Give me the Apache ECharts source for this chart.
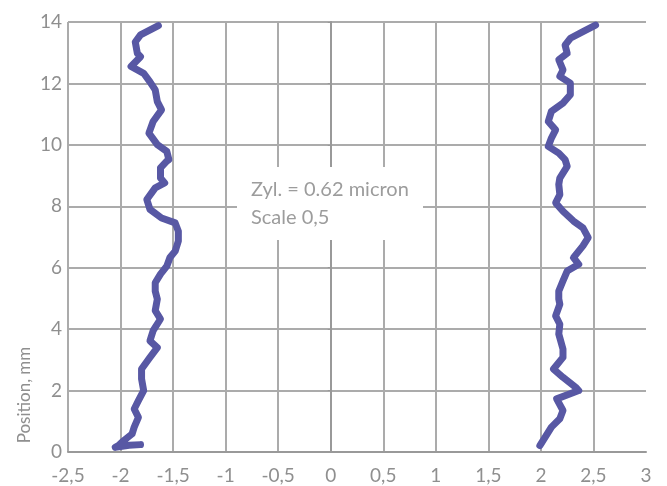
<!DOCTYPE html>
<html><head><meta charset="utf-8">
<script src="https://cdn.jsdelivr.net/npm/echarts@6/dist/echarts.min.js"></script>
<style>html,body{margin:0;padding:0;background:#fff}#c{width:667px;height:486px}</style>
</head><body><div id="c"></div>
<script>
const xTicks = [-2.5,-2,-1.5,-1,-0.5,0,0.5,1,1.5,2,2.5,3];
const yTicks = [0,2,4,6,8,10,12,14];
const yAxisName = 'Position, mm';
const noteLines = ['Zyl. = 0.62 micron', 'Scale 0,5'];

// left profile: [x, position]
const leftX = [-1.64,-1.81,-1.86,-1.84,-1.81,-1.90,-1.84,-1.78,-1.72,-1.67,-1.65,-1.61,-1.69,-1.73,-1.65,-1.56,-1.54,-1.56,-1.62,-1.62,-1.58,-1.67,-1.75,-1.72,-1.61,-1.48,-1.45,-1.45,-1.48,-1.53,-1.56,-1.62,-1.67,-1.67,-1.65,-1.67,-1.62,-1.69,-1.72,-1.65,-1.72,-1.80,-1.80,-1.78,-1.83,-1.87,-1.83,-1.87,-1.89,-1.97,-2.02,-2.05,-1.92,-1.81];
const leftY = [13.88,13.58,13.35,12.98,12.87,12.55,12.44,12.33,12.05,11.79,11.41,11.14,10.76,10.38,10.01,9.79,9.52,9.47,9.25,8.92,8.76,8.60,8.22,7.90,7.62,7.46,7.19,6.87,6.54,6.33,6.05,5.79,5.51,5.24,4.98,4.60,4.33,3.95,3.62,3.40,3.08,2.70,2.38,2.00,1.67,1.40,1.13,0.81,0.59,0.37,0.21,0.15,0.22,0.24];

// right profile: [x, position]
const rightX = [2.52,2.40,2.28,2.23,2.25,2.17,2.21,2.18,2.28,2.28,2.21,2.10,2.07,2.14,2.10,2.07,2.17,2.23,2.25,2.18,2.17,2.18,2.14,2.21,2.31,2.40,2.45,2.40,2.31,2.36,2.25,2.21,2.17,2.17,2.18,2.14,2.18,2.17,2.21,2.21,2.12,2.21,2.33,2.36,2.15,2.21,2.18,2.10,2.06,1.99];
const rightY = [13.90,13.69,13.47,13.25,12.98,12.77,12.44,12.23,12.01,11.63,11.36,11.09,10.76,10.49,10.22,9.95,9.73,9.52,9.30,8.92,8.71,8.38,8.11,7.84,7.52,7.30,6.98,6.71,6.33,6.11,5.89,5.57,5.24,4.98,4.81,4.43,4.16,3.84,3.35,3.08,2.70,2.43,2.11,2.00,1.73,1.35,1.08,0.81,0.59,0.21];

const zip = (a, b) => a.map((v, i) => [v, b[i]]);
const fmt = v => String(v).replace('.', ',');
const FONT = 'Lato';
const chart = echarts.init(document.getElementById('c'), null, {renderer: 'canvas'});
const lineStyle = {color: '#5858a4', width: 7, cap: 'round', join: 'round'};
chart.setOption({
  animation: false,
  backgroundColor: '#fff',
  grid: {left: 68, right: 21, top: 22, bottom: 34},
  xAxis: {
    type: 'value', min: xTicks[0], max: xTicks[xTicks.length - 1], interval: 0.5,
    axisLine: {show: true, lineStyle: {color: '#999999', width: 2}},
    axisTick: {show: false},
    axisLabel: {formatter: fmt, color: '#8f8f8f', fontSize: 19, fontFamily: FONT, margin: 14},
    splitLine: {show: true, showMaxLine: false, lineStyle: {color: '#ababab', width: 2}}
  },
  yAxis: {
    type: 'value', min: yTicks[0], max: yTicks[yTicks.length - 1], interval: 2,
    axisLine: {show: true, lineStyle: {color: '#999999', width: 2}},
    axisTick: {show: true, length: 3, lineStyle: {color: '#999999', width: 1}},
    axisLabel: {color: '#8f8f8f', fontSize: 19, fontFamily: FONT, margin: 6},
    splitLine: {show: true, lineStyle: {color: '#ababab', width: 2}}
  },
  graphic: [
    {type: 'text', x: 25, y: 395, rotation: Math.PI / 2,
     style: {text: yAxisName, fill: '#8f8f8f', fontSize: 17, fontFamily: FONT, align: 'center', verticalAlign: 'middle'}},
    {type: 'rect', shape: {x: 237, y: 167, width: 186, height: 73}, style: {fill: '#fff'}, z: 50},
    {type: 'text', x: 251, y: 190, z: 51,
     style: {text: noteLines[0], fill: '#9c9c9c', fontSize: 20, fontFamily: FONT, verticalAlign: 'middle'}},
    {type: 'text', x: 251, y: 218, z: 51,
     style: {text: noteLines[1], fill: '#9c9c9c', fontSize: 20, fontFamily: FONT, verticalAlign: 'middle'}}
  ],
  series: [
    {type: 'line', data: zip(leftX, leftY), showSymbol: false, lineStyle, z: 10},
    {type: 'line', data: zip(rightX, rightY), showSymbol: false, lineStyle, z: 10}
  ]
});
</script></body></html>
